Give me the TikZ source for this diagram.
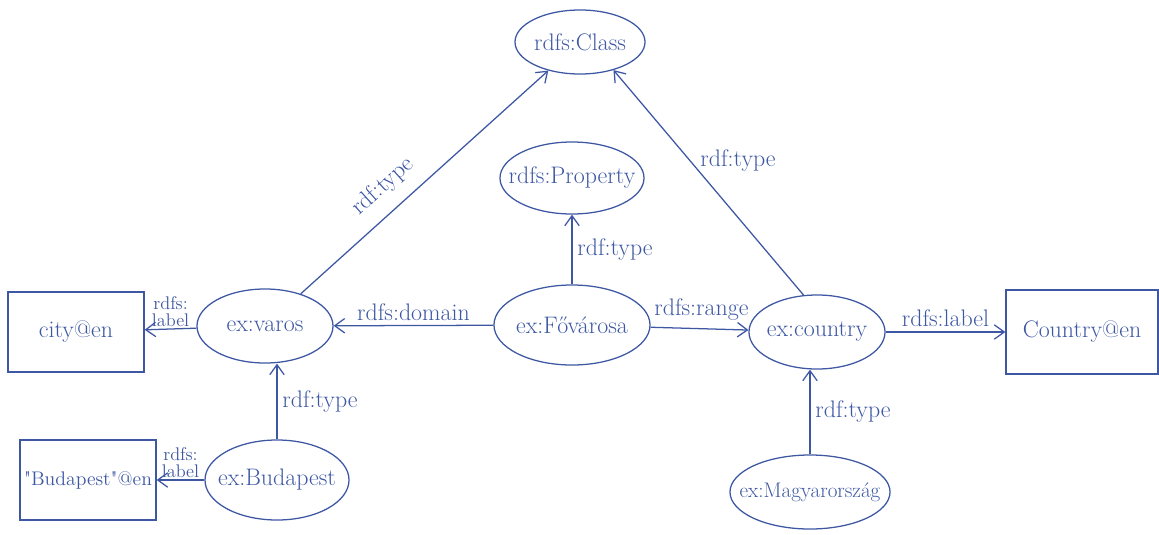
\documentclass[tikz,border=0pt]{standalone}
\usetikzlibrary{arrows.meta, shapes.geometric, positioning}
\definecolor{inkblue}{rgb}{0.24, 0.34, 0.64}
\newcommand{\inell}[1]{\makebox[0pt]{#1}}

\begin{document}
\begin{tikzpicture}[x=0.025cm, y=-0.025cm, >={Straight Barb[length=2.5mm, width=3.6mm]}, line width=0.9pt,
    every path/.style={color=inkblue},
    res/.style={draw, ellipse, inner sep=0pt, text=inkblue, font=\fontsize{17}{19}\selectfont},
    lit/.style={draw, rectangle, inner sep=0pt, text=inkblue, font=\fontsize{17}{19}\selectfont},
    rel/.style={text=inkblue, font=\fontsize{17}{19}\selectfont},
    sub/.style={text=inkblue, align=center, inner sep=1pt, font=\fontsize{13}{12}\selectfont}]
    \useasboundingbox (0,0) rectangle (1159,534);

    \node[res, minimum width=3.25cm, minimum height=1.6cm] (Class) at (580,42) {\inell{rdfs:Class}};
    \node[res, minimum width=3.6cm, minimum height=1.8cm] (Property) at (572,178) {\inell{rdfs:Property}};
    \node[res, minimum width=3.4cm, minimum height=1.85cm] (Varos) at (265,326) {\inell{ex:varos}};
    \node[lit, minimum width=3.4cm, minimum height=2cm] (CityLit) at (76,332) {city@en};
    \node[res, minimum width=3.9cm, minimum height=2cm] (Fovarosa) at (572,325) {\inell{ex:Fővárosa}};
    \node[res, minimum width=3.4cm, minimum height=1.85cm] (Country) at (817,332) {\inell{ex:country}};
    \node[lit, minimum width=3.8cm, minimum height=2.1cm] (CountryLit) at (1082,332) {Country@en};
    \node[res, minimum width=3.6cm, minimum height=2cm] (Budapest) at (277,480) {\inell{ex:Budapest}};
    \node[lit, minimum width=3.4cm, minimum height=2cm, font=\fontsize{14}{16}\selectfont] (BudapestLit) at (88,480) {\textquotedbl Budapest\textquotedbl @en};
    \node[res, minimum width=4cm, minimum height=1.85cm, font=\fontsize{15}{17}\selectfont] (Magyar) at (810,492) {\inell{ex:Magyarország}};

    \draw[->] (Varos) -- (Class) node[rel, pos=0.4, above=6pt, sloped] (tVaros) {rdf:type};
    \draw[->] (Country.110) -- (Class.-40) node[rel, pos=0.6, right=4pt] (tCountry) {rdf:type};
    \draw[->] (Fovarosa) -- (Property) node[rel, midway, right] (tFovarosa) {rdf:type};
    \draw[->] (Fovarosa) -- (Varos) node[rel, midway, above] (dom) {rdfs:domain};
    \draw[->] (Fovarosa) -- (Country) node[rel, pos=0.52, above=2pt] (ran) {rdfs:range};
    \draw[->] (Country) -- (CountryLit) node[rel, midway, above] (lCountry) {rdfs:label};
    \draw[->] (Varos) -- (CityLit) node[sub, midway, above] (lVaros) {rdfs:\\label};
    \draw[->] (Budapest) -- (BudapestLit) node[sub, midway, above] (lBudapest) {rdfs:\\label};
    \draw[->] (Budapest) -- (Budapest |- Varos.south) node[rel, midway, right] (tBudapest) {rdf:type};
    \draw[->] (Magyar) -- (Magyar |- Country.south) node[rel, midway, right] (tMagyar) {rdf:type};
\end{tikzpicture}
\end{document}
